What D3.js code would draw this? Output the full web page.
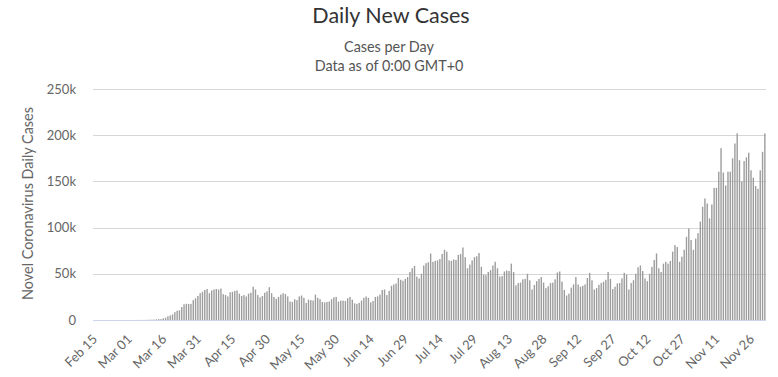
<!DOCTYPE html>
<html>
<head>
<meta charset="utf-8">
<script src="https://cdn.jsdelivr.net/npm/d3@7"></script>
<style>
  html, body { margin: 0; padding: 0; background: #fff; }
  svg { display: block; }
  text { font-family: "Lato", "Open Sans", sans-serif; }
</style>
</head>
<body>
<svg id="chart" width="778" height="377"></svg>
<script>
// ---- data ----
const startDate = "2020-02-15";
const endDate = "2020-12-02";
const tickLabels = ["Feb 15","Mar 01","Mar 16","Mar 31","Apr 15","Apr 30","May 15","May 30","Jun 14","Jun 29","Jul 14","Jul 29","Aug 13","Aug 28","Sep 12","Sep 27","Oct 12","Oct 27","Nov 11","Nov 26"];
const yTicks = [0, 50000, 100000, 150000, 200000, 250000];

// daily new cases (thousands)
const casesFeb = [0,0,0,0,0,0,0.02,0,0,0,0.001,0,0.003,0.003,0.008];
const casesMar = [0.007,0.023,0.022,0.028,0.069,0.085,0.099,0.116,0.177,0.29,0.387,0.502,0.686,0.955,1.0,1.8,
  2.5,4.0,5.0,6.0,8.5,10.0,10.5,14.0,17.0,17.5,17.3,17.5,21.5,23.5,26.0];
const casesApr = [29.0,30.5,32.5,33.5,29.0,32.0,33.0,33.5,33.0,34.0,28.0,27.0,25.5,30.0,30.5,31.5,32.0,28.5,26.0,27.0,25.5,28.5,29.5,36.0,33.0,27.0,24.5,26.0,29.5,31.0];
const casesMay = [35.5,29.0,25.0,23.0,25.0,27.5,29.0,28.0,25.5,20.0,19.5,22.5,21.5,25.5,26.5,24.0,18.5,22.0,21.5,21.0,27.5,24.0,22.5,19.5,19.0,19.5,20.0,22.5,24.5,25.0,20.0];
const casesJun = [21.0,21.0,20.5,23.5,25.0,22.0,18.0,17.5,18.5,21.0,24.0,25.5,24.0,19.0,20.5,25.0,25.5,27.5,32.5,33.0,27.0,31.5,37.0,38.5,39.5,45.5,43.5,42.5,44.5,46.5];
const casesJul = [52.0,56.0,58.5,47.0,45.0,50.0,59.0,61.5,62.5,72.0,63.0,64.0,64.5,66.0,71.5,76.0,74.0,64.5,64.0,65.5,65.0,70.5,71.5,78.5,68.0,56.0,60.0,64.5,68.0,69.0,72.5];
const casesAug = [57.5,49.0,48.5,52.0,54.0,59.0,63.0,56.0,47.0,47.5,52.5,53.5,53.0,61.0,52.0,37.5,40.0,40.5,44.0,44.5,50.0,43.0,33.0,38.0,42.0,44.5,46.5,40.5,34.5,36.5,40.0];
const casesSep = [40.5,44.0,51.5,52.5,41.5,32.5,26.5,28.5,35.0,38.5,46.5,38.5,36.0,37.0,38.5,45.5,51.0,43.0,33.0,34.5,38.0,40.0,41.5,43.5,52.0,44.5,33.5,36.0,39.5,40.0];
const casesOct = [45.0,51.0,49.0,33.0,40.0,43.0,50.0,57.0,59.0,53.0,45.0,42.0,50.0,57.5,65.0,72.0,56.0,52.0,61.0,63.0,61.0,64.0,74.0,81.0,79.0,63.0,68.5,76.0,90.0,99.0,86.5];
const casesNov = [76.0,88.0,94.0,106.5,122.5,131.5,126.0,110.0,125.0,143.0,143.0,160.5,186.0,159.5,145.5,160.5,160.5,175.0,191.0,202.0,173.0,150.0,172.0,176.0,181.0,162.0,154.0,145.0,142.0,162.0];
const casesDec = [182.0,202.0];
const values = [].concat(casesFeb, casesMar, casesApr, casesMay, casesJun, casesJul, casesAug, casesSep, casesOct, casesNov, casesDec);

// ---- categories ----
const parse = d3.timeParse("%Y-%m-%d");
const fmt = d3.timeFormat("%b %d");
const days = d3.timeDay.range(parse(startDate), d3.timeDay.offset(parse(endDate), 1));
const categories = days.map(fmt);
const data = categories.map((c, i) => ({ c, v: (values[i] || 0) * 1000 }));

// ---- layout ----
const svg = d3.select("#chart");
const plotL = 93, plotR = 766, plotT = 89, plotB = 320;

const x = d3.scaleBand().domain(categories).range([plotL, plotR]).paddingInner(0.4).paddingOuter(0.2);
const y = d3.scaleLinear().domain([0, 250000]).range([plotB, plotT]);

// title
svg.append("text").attr("x", 391).attr("y", 23).attr("text-anchor", "middle")
  .attr("font-size", 21.5).attr("fill", "#333").text("Daily New Cases");
svg.append("text").attr("x", 389).attr("y", 52).attr("text-anchor", "middle")
  .attr("font-size", 14.4).attr("fill", "#555").text("Cases per Day");
svg.append("text").attr("x", 389).attr("y", 71).attr("text-anchor", "middle")
  .attr("font-size", 14.4).attr("fill", "#555").text("Data as of 0:00 GMT+0");

// gridlines
svg.append("g").selectAll("line").data(yTicks.filter(d => d > 0)).join("line")
  .attr("x1", plotL).attr("x2", plotR)
  .attr("y1", d => Math.round(y(d)) + 0.5).attr("y2", d => Math.round(y(d)) + 0.5)
  .attr("stroke", "#d6d6d6").attr("stroke-width", 1);

// y axis labels
const yAxis = d3.axisLeft(y).tickValues(yTicks).tickSize(0).tickPadding(0)
  .tickFormat(d => d === 0 ? "0" : (d / 1000) + "k");
const gy = svg.append("g").attr("transform", `translate(${76},0)`).call(yAxis);
gy.select(".domain").remove();
gy.selectAll("text").attr("font-size", 13).attr("fill", "#666").attr("font-family", "Lato, sans-serif");

// y title
svg.append("text").attr("transform", `translate(33,${(plotT + plotB) / 2 - 1}) rotate(-90)`)
  .attr("text-anchor", "middle").attr("font-size", 14.4).attr("fill", "#666")
  .text("Novel Coronavirus Daily Cases");

// bars
svg.append("g").selectAll("rect").data(data).join("rect")
  .attr("x", d => x(d.c))
  .attr("width", x.bandwidth())
  .attr("y", d => y(d.v))
  .attr("height", d => y(0) - y(d.v))
  .attr("fill", "#9c9c9c");

// x axis
const xAxis = d3.axisBottom(x).tickValues(tickLabels).tickSize(0).tickPadding(0);
const gx = svg.append("g").attr("transform", `translate(0,${plotB})`).call(xAxis);
gx.select(".domain").attr("stroke", "#ccd6eb").attr("d", `M${plotL},0.5H${plotR}`);
gx.selectAll("text")
  .attr("font-size", 13).attr("fill", "#666").attr("font-family", "Lato, sans-serif")
  .attr("text-anchor", "end").attr("dy", 0)
  .attr("transform", "translate(4,20) rotate(-45)");
</script>
</body>
</html>
